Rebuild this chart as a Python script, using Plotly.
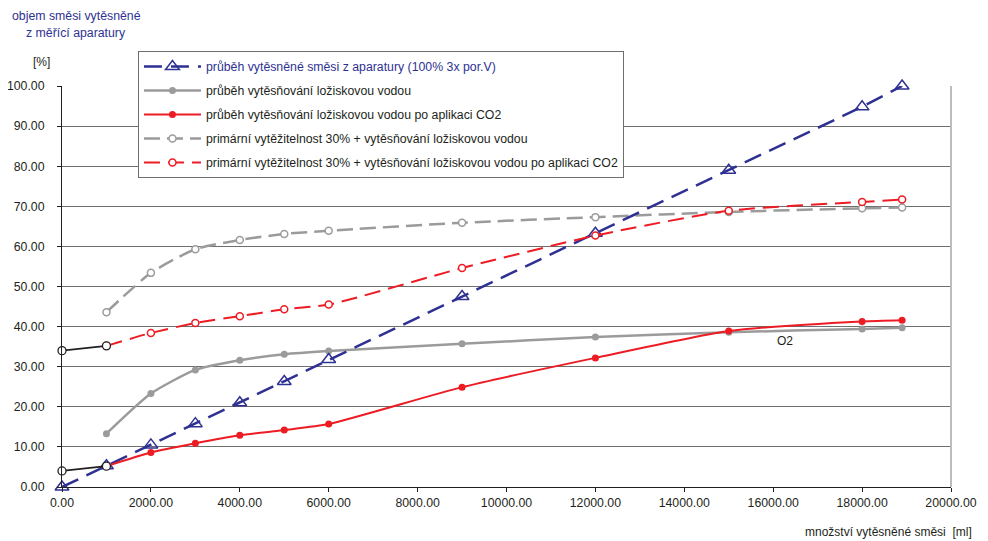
import plotly.graph_objects as go

# ---- data ----
vol = [1000, 2000, 3000, 4000, 5000, 6000, 9000, 12000, 15000, 18000, 18900]
vol_app = [0, 1000, 2000, 3000, 4000, 5000, 6000, 9000, 12000, 15000, 18000, 18900]

apparatus = [0.0, 5.3, 10.5, 15.8, 21.0, 26.3, 31.8, 47.5, 63.3, 79.0, 94.8, 100.0]
water = [13.3, 23.3, 29.2, 31.6, 33.1, 33.9, 35.7, 37.4, 38.6, 39.4, 39.7]
water_co2 = [5.2, 8.6, 10.9, 12.9, 14.2, 15.7, 24.9, 32.2, 38.9, 41.3, 41.6]
prim_water = [43.6, 53.4, 59.3, 61.6, 63.1, 63.9, 65.9, 67.3, 68.6, 69.5, 69.7]
prim_water_co2 = [35.2, 38.4, 40.9, 42.6, 44.3, 45.5, 54.6, 62.7, 68.9, 71.1, 71.7]

start_vol = [0, 1000]
start_low = [4.0, 5.2]
start_high = [34.0, 35.2]

names = [
    "průběh vytěsněné směsi z aparatury (100% 3x por.V)",
    "průběh vytěsňování ložiskovou vodou",
    "průběh vytěsňování ložiskovou vodou po aplikaci CO2",
    "primární vytěžitelnost 30% + vytěsňování ložiskovou vodou",
    "primární vytěžitelnost 30% + vytěsňování ložiskovou vodou po aplikaci CO2",
]

x_ticks = [0, 2000, 4000, 6000, 8000, 10000, 12000, 14000, 16000, 18000, 20000]
y_ticks = [0, 10, 20, 30, 40, 50, 60, 70, 80, 90, 100]

BLUE = "#2E3192"
RED = "#ED1C24"
GREY = "#9B9B9B"
BLACK = "#231F20"
FONT = "Liberation Sans, Arial, sans-serif"

# plot-area geometry in page pixels (page has an 8px body margin)
PL, PR, PT, PB = 62.0, 951.5, 86.0, 486.7
PW, PH = PR - PL, PB - PT


def px(x):
    return (x - PL) / PW


def py(y):
    return (PB - y) / PH


fig = go.Figure()

# grey solid
fig.add_trace(go.Scatter(
    x=vol, y=water, name=names[1], legendrank=2, legendgroup="g2", cliponaxis=False,
    mode="lines+markers", line=dict(color=GREY, width=2.5, shape="spline", smoothing=0.6),
    marker=dict(symbol="circle", size=7, color=GREY)))
# grey dashed
fig.add_trace(go.Scatter(
    x=vol, y=prim_water, name=names[3], legendrank=4, legendgroup="g4", cliponaxis=False,
    mode="lines+markers", line=dict(color=GREY, width=2.5, dash="16px,7px", shape="spline", smoothing=0.6),
    marker=dict(symbol="circle", size=7, color="white", line=dict(color=GREY, width=1.5))))
# blue apparatus
fig.add_trace(go.Scatter(
    x=vol_app, y=apparatus, name='<span style="color:%s">%s</span>' % (BLUE, names[0]),
    legendrank=1, legendgroup="g1", cliponaxis=False,
    mode="lines+markers", line=dict(color=BLUE, width=2.5, dash="18px,9px"),
    marker=dict(symbol="triangle-up-open", size=12, color=BLUE, line=dict(width=1.5))))
# red solid
fig.add_trace(go.Scatter(
    x=vol, y=water_co2, name=names[2], legendrank=3, legendgroup="g3", cliponaxis=False,
    mode="lines+markers", line=dict(color=RED, width=2, shape="spline", smoothing=0.6),
    marker=dict(symbol="circle", size=7, color=RED)))
# red dashed
fig.add_trace(go.Scatter(
    x=vol, y=prim_water_co2, name=names[4], legendrank=5, legendgroup="g5", cliponaxis=False,
    mode="lines+markers", line=dict(color=RED, width=2, dash="16px,8px", shape="spline", smoothing=0.6),
    marker=dict(symbol="circle", size=7, color="white", line=dict(color=RED, width=1.5))))
# black starting segments
for yy in (start_low, start_high):
    fig.add_trace(go.Scatter(
        x=start_vol, y=yy, showlegend=False, mode="lines+markers", cliponaxis=False,
        line=dict(color=BLACK, width=1.8),
        marker=dict(symbol="circle", size=8, color="white", line=dict(color=BLACK, width=1.3))))

fig.add_annotation(x=16270, y=36.4, xref="x", yref="y", text="O2", showarrow=False,
                   font=dict(size=12, color=BLACK, family=FONT))

# axis titles
fig.add_annotation(x=px(77), y=py(16), xref="paper", yref="paper", xanchor="center", yanchor="middle",
                   text="objem směsi vytěsněné", showarrow=False,
                   font=dict(size=12.3, color=BLUE, family=FONT))
fig.add_annotation(x=px(76), y=py(33), xref="paper", yref="paper", xanchor="center", yanchor="middle",
                   text="z měřící aparatury", showarrow=False,
                   font=dict(size=12.3, color=BLUE, family=FONT))
fig.add_annotation(x=px(41), y=py(62), xref="paper", yref="paper", xanchor="center", yanchor="middle",
                   text="[%]", showarrow=False, font=dict(size=12, color=BLACK, family=FONT))
fig.add_annotation(x=px(975), y=py(532), xref="paper", yref="paper", xanchor="right", yanchor="middle",
                   text="množství vytěsněné směsi  [ml]", showarrow=False,
                   font=dict(size=12, color=BLACK, family=FONT))

# right border
fig.add_shape(type="line", xref="paper", yref="paper", x0=1, x1=1, y0=0, y1=1,
              line=dict(color="#BDBDBD", width=2))

fig.update_layout(
    width=980, height=533,
    margin=dict(l=PL - 8, r=980 + 8 - PR, t=PT - 8, b=533 + 8 - PB),
    paper_bgcolor="white", plot_bgcolor="white",
    font=dict(family=FONT, size=12, color=BLACK),
    showlegend=True,
    legend=dict(x=px(138), y=py(51), xanchor="left", yanchor="top",
                bgcolor="white", bordercolor="#6E6E6E", borderwidth=1,
                font=dict(size=12.3, color=BLACK, family=FONT),
                traceorder="grouped", tracegroupgap=5, itemwidth=57),
    xaxis=dict(range=[0, 20000], tickvals=x_ticks, tickformat=".2f", automargin=False,
               showgrid=False, zeroline=False, showline=True, linecolor=BLACK, linewidth=1,
               ticks="outside", ticklen=4, tickcolor=BLACK,
               tickfont=dict(size=12.3, color=BLACK, family=FONT)),
    yaxis=dict(range=[0, 100], tickvals=y_ticks, tickformat=".2f", automargin=False,
               showgrid=True, gridcolor="#6E6E6E", gridwidth=1,
               zeroline=False, showline=True, linecolor=BLACK, linewidth=1,
               ticks="outside", ticklen=4, tickcolor=BLACK, ticklabelstandoff=10,
               tickfont=dict(size=12.3, color=BLACK, family=FONT)),
)

fig.write_html("out.html")
